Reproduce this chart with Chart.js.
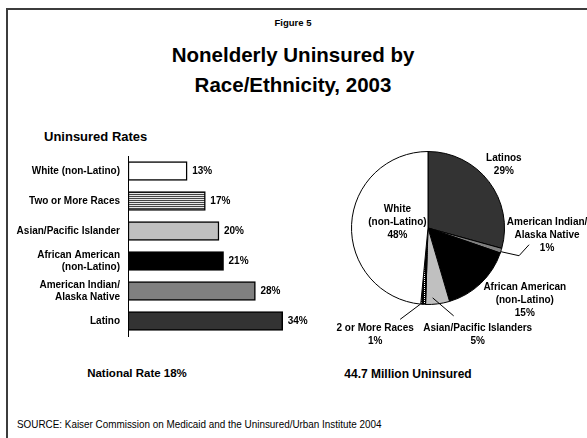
<!DOCTYPE html>
<html>
<head>
<meta charset="utf-8">
<script src="https://cdn.jsdelivr.net/npm/chart.js@4.4.1/dist/chart.umd.min.js"></script>
<style>
  body { margin: 0; background: #fff; }
  #wrap { position: relative; width: 587px; height: 438px; overflow: hidden;
          font-family: 'Liberation Sans', Arial, sans-serif; color: #000; }
  canvas { position: absolute; left: 0; top: 0; }
  .t { position: absolute; white-space: nowrap; font-weight: bold; }
  .c { transform: translateX(-50%); text-align: center; }
  #frameTop { position: absolute; left: 6px; top: 8px; width: 600px; height: 2px; background: #3c3c3c; }
  #frameLeft { position: absolute; left: 6px; top: 8px; width: 2px; height: 440px; background: #3c3c3c; }
  #source { transform: scaleX(0.86); transform-origin: left center; font-weight: normal; }
</style>
</head>
<body>
<div id="wrap">
  <div id="frameTop"></div>
  <div id="frameLeft"></div>
  <div class="t c" style="left:293px; top:16px; font-size:9.5px; line-height:14px;">Figure 5</div>
  <div class="t c" style="left:293px; top:40px; font-size:20.5px; line-height:30px;">Nonelderly Uninsured by<br>Race/Ethnicity, 2003</div>
  <div class="t" style="left:44px; top:129px; font-size:13px; line-height:16px;">Uninsured Rates</div>
  <div class="t c" style="left:137px; top:365px; font-size:11.5px; line-height:16px;">National Rate 18%</div>
  <div class="t c" style="left:408px; top:366px; font-size:12px; line-height:16px;">44.7 Million Uninsured</div>
  <div class="t" id="source" style="left:17px; top:416px; font-size:11.5px; line-height:16px;">SOURCE: Kaiser Commission on Medicaid and the Uninsured/Urban Institute 2004</div>
  <canvas id="barChart" width="587" height="438"></canvas>
  <canvas id="pieChart" width="587" height="438"></canvas>
</div>
<script>
// 左の棒グラフ: 人種別の無保険率
const barCategories = [
    ['White (non-Latino)'],
    ['Two or More Races'],
    ['Asian/Pacific Islander'],
    ['African American', '(non-Latino)'],
    ['American Indian/', 'Alaska Native'],
    ['Latino']
];
const barRates = [13, 17, 20, 21, 28, 34];

// 右の円グラフ: 無保険者の内訳
const pieCategories = [
    ['Latinos'],
    ['American Indian/', 'Alaska Native'],
    ['African American', '(non-Latino)'],
    ['Asian/Pacific Islanders'],
    ['2 or More Races'],
    ['White', '(non-Latino)']
];
const pieShares = [29, 1, 15, 5, 1, 48];

const FONT = '"Liberation Sans", Arial, sans-serif';

// 横縞のハッチング (Two or More Races)
const makeStripes = () => {
    const c = document.createElement('canvas');
    c.width = 4; c.height = 2;
    const x = c.getContext('2d');
    x.fillStyle = '#e6e6e6'; x.fillRect(0, 0, 4, 2);
    x.fillStyle = '#444'; x.fillRect(0, 0, 4, 1);
    return x.createPattern(c, 'repeat');
};

// 縦の点線模様 (円グラフの 2 or More Races)
const makeDots = () => {
    const c = document.createElement('canvas');
    c.width = 3; c.height = 2;
    const x = c.getContext('2d');
    x.fillStyle = '#000'; x.fillRect(0, 0, 3, 2);
    x.fillStyle = '#fff'; x.fillRect(1, 0, 1, 1);
    return x.createPattern(c, 'repeat');
};

const barValueLabels = {
    id: 'barValueLabels',
    afterDatasetsDraw(chart) {
        const ctx = chart.ctx;
        ctx.save();
        ctx.font = 'bold 10px ' + FONT;
        ctx.fillStyle = '#000';
        ctx.textBaseline = 'middle';
        chart.getDatasetMeta(0).data.forEach((bar, i) => {
            ctx.fillText(barRates[i] + '%', bar.x + 5, bar.y);
        });
        ctx.restore();
    }
};

new Chart(document.getElementById('barChart'), {
    type: 'bar',
    data: {
        labels: barCategories,
        datasets: [{
            data: barRates,
            backgroundColor: ['#ffffff', makeStripes(), '#c0c0c0', '#000000', '#808080', '#333333'],
            borderColor: '#000',
            borderWidth: 1.5,
            borderSkipped: false,
            barThickness: 19
        }]
    },
    options: {
        indexAxis: 'y',
        responsive: false,
        animation: false,
        layout: { padding: { left: 0, top: 156, right: 277, bottom: 102 } },
        plugins: { legend: { display: false }, tooltip: { enabled: false } },
        scales: {
            x: { display: false, min: 0, max: 40 },
            y: {
                grid: { display: false, drawTicks: false },
                border: { display: true, color: '#000', width: 1 },
                ticks: { color: '#000', padding: 8, font: { family: FONT, size: 10, weight: 'bold' } },
                afterFit(scale) { scale.width = 128; }
            }
        }
    },
    plugins: [barValueLabels]
});

// ラベル位置: スライス中央角の外周点からのずれ
const pieLabelLayout = [
    { r: 1, dx: 15, dy: -17 },
    { r: 1, dx: 46, dy: -15, leader: [[0, 1], [18, 5], [28, -6]] },
    { r: 1, dx: 44, dy: 17 },
    { r: 1, dx: 40, dy: 31, leader: [[-5, -6], [16, 12]] },
    { r: 1, dx: -48, dy: 30, leader: [[-3, 0], [-23, 15]] },
    { r: 0.4, dx: 0, dy: -4 }
];

const pieLabels = {
    id: 'pieLabels',
    afterDatasetsDraw(chart) {
        const ctx = chart.ctx;
        ctx.save();
        ctx.font = 'bold 10px ' + FONT;
        ctx.fillStyle = '#000';
        ctx.strokeStyle = '#000';
        ctx.lineWidth = 1;
        ctx.textAlign = 'center';
        ctx.textBaseline = 'middle';
        chart.getDatasetMeta(0).data.forEach((arc, i) => {
            const lay = pieLabelLayout[i];
            const mid = (arc.startAngle + arc.endAngle) / 2;
            const ex = arc.x + Math.cos(mid) * arc.outerRadius * lay.r;
            const ey = arc.y + Math.sin(mid) * arc.outerRadius * lay.r;
            if (lay.leader) {
                ctx.beginPath();
                lay.leader.forEach((p, k) => {
                    if (k === 0) ctx.moveTo(ex + p[0], ey + p[1]);
                    else ctx.lineTo(ex + p[0], ey + p[1]);
                });
                ctx.stroke();
            }
            const lines = pieCategories[i].concat([pieShares[i] + '%']);
            const lh = 13;
            const top = ey + lay.dy - (lines.length - 1) * lh / 2;
            lines.forEach((s, k) => ctx.fillText(s, ex + lay.dx, top + k * lh));
        });
        ctx.restore();
    }
};

new Chart(document.getElementById('pieChart'), {
    type: 'pie',
    data: {
        labels: pieCategories.map(l => l.join(' ')),
        datasets: [{
            data: pieShares,
            backgroundColor: ['#333333', '#808080', '#000000', '#c0c0c0', makeDots(), '#ffffff'],
            borderColor: '#000',
            borderWidth: 1
        }]
    },
    options: {
        responsive: false,
        animation: false,
        layout: { padding: { left: 351, top: 151, right: 82, bottom: 133 } },
        plugins: { legend: { display: false }, tooltip: { enabled: false } }
    },
    plugins: [pieLabels]
});
</script>
</body>
</html>
